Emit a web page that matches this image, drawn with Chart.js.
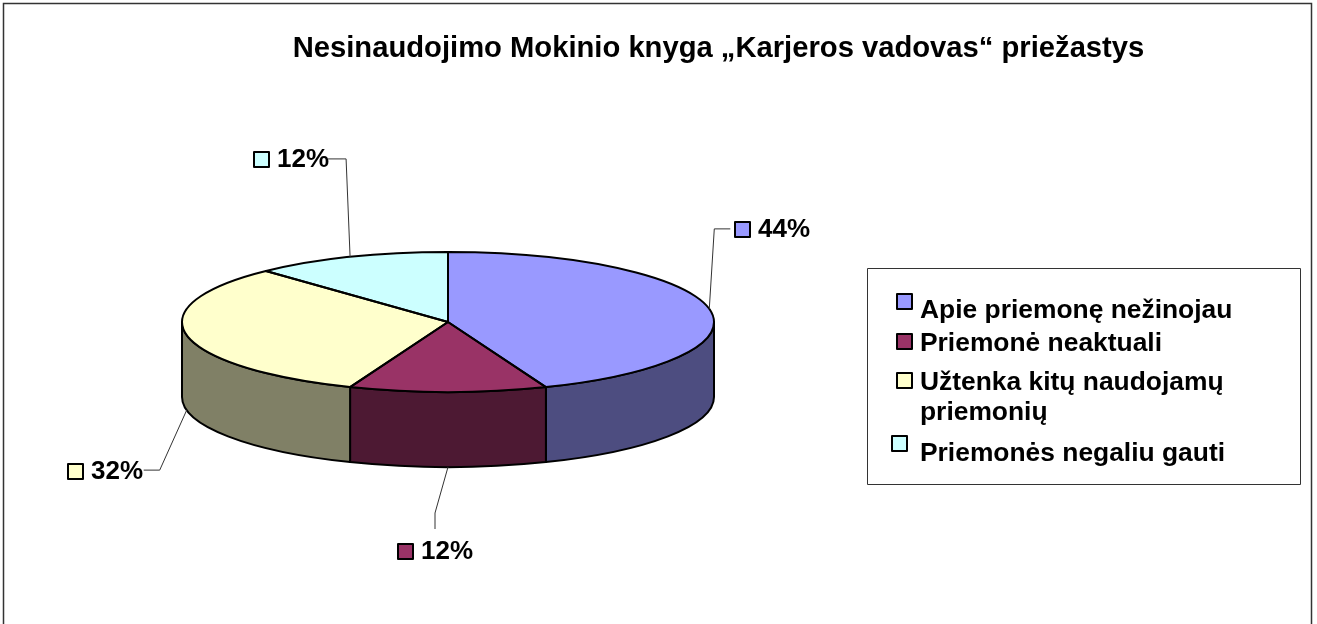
<!DOCTYPE html>
<html>
<head>
<meta charset="utf-8">
<style>html,body{margin:0;padding:0;background:#fff;overflow:hidden}canvas{display:block}</style>
<script src="https://cdn.jsdelivr.net/npm/chart.js@4"></script>
</head>
<body>
<canvas id="c" width="1317" height="624"></canvas>
<script>
const chartTitle = 'Nesinaudojimo Mokinio knyga „Karjeros vadovas“ priežastys';
const categories = ['Apie priemonę nežinojau', 'Priemonė neaktuali', 'Užtenka kitų naudojamų priemonių', 'Priemonės negaliu gauti'];
const shares = [44, 12, 32, 12];
const topColors = ['#9999FF', '#993366', '#FFFFCC', '#CCFFFF'];
const wallColors = ['#4D4D80', '#4D1933', '#808066', '#668080'];

const FONT = "'Liberation Sans', Arial, sans-serif";
const LABEL_PX = 26, LEGEND_PX = 26.4, TITLE_PX = 29.2;
const AREA = {left: 182, right: 714, top: 56, bottom: 588};
const SQUASH = 70 / 266, DEPTH = 75;
// data-label layout, relative to each slice's rim point: elbow path and marker box
const labelLayout = [
  {path: [[5, -80], [21, -80]], box: [26, -87]},
  {path: [[-13, 46], [-13, 62]], box: [-50, 77]},
  {path: [[-27, 60], [-43, 60]], box: [-119, 54]},
  {path: [[-4, -98], [-22, -98]], box: [-96, -105]}
];
// legend layout: marker box, text lines
const legendLayout = [
  {box: [897, 294], lines: [[920, 318]]},
  {box: [897, 334], lines: [[920, 351]]},
  {box: [897, 373], lines: [[920, 390], [920, 420]]},
  {box: [892, 436], lines: [[920, 461]]}
];
const legendLines = [[categories[0]], [categories[1]], ['Užtenka kitų naudojamų', 'priemonių'], [categories[3]]];

function marker(ctx, x, y, color) {
  ctx.fillStyle = color;
  ctx.strokeStyle = '#000';
  ctx.lineWidth = 2;
  ctx.fillRect(x, y, 15, 15);
  ctx.strokeRect(x, y, 15, 15);
}

const pie3d = {
  id: 'pie3d',
  afterLayout(chart) {
    const a = chart.chartArea;
    Object.assign(a, AREA, {width: AREA.right - AREA.left, height: AREA.bottom - AREA.top});
    const t = chart.titleBlock;
    const h = t.bottom - t.top;
    t.left = 292; t.right = 1145; t.top = 49 - h / 2; t.bottom = t.top + h;
  },
  beforeDraw(chart) {
    const ctx = chart.ctx;
    ctx.save();
    ctx.fillStyle = '#fff';
    ctx.fillRect(0, 0, chart.width, chart.height);
    ctx.strokeStyle = '#333';
    ctx.lineWidth = 1.5;
    ctx.strokeRect(3.5, 3.5, 1308, 720);
    ctx.restore();
  },
  beforeDatasetsDraw(chart) {
    const ctx = chart.ctx;
    ctx.save();
    ctx.lineWidth = 2;
    ctx.strokeStyle = '#000';
    ctx.lineJoin = 'round';
    chart.getDatasetMeta(0).data.forEach((arc, i) => {
      const a1 = Math.max(arc.startAngle, 0), a2 = Math.min(arc.endAngle, Math.PI);
      if (a2 <= a1) return;
      const r = arc.outerRadius, ry = r * SQUASH;
      ctx.beginPath();
      ctx.ellipse(arc.x, arc.y, r, ry, 0, a1, a2, false);
      ctx.ellipse(arc.x, arc.y + DEPTH, r, ry, 0, a2, a1, true);
      ctx.closePath();
      ctx.fillStyle = wallColors[i];
      ctx.fill();
      ctx.stroke();
    });
    ctx.restore();
  },
  beforeDatasetDraw(chart) {
    const ctx = chart.ctx;
    const arc = chart.getDatasetMeta(0).data[0];
    ctx.save();
    ctx.translate(arc.x, arc.y);
    ctx.scale(1, SQUASH);
    ctx.translate(-arc.x, -arc.y);
  },
  afterDatasetDraw(chart) {
    chart.ctx.restore();
  },
  afterDatasetsDraw(chart) {
    const ctx = chart.ctx;
    ctx.save();
    ctx.textBaseline = 'alphabetic';
    ctx.textAlign = 'left';
    chart.getDatasetMeta(0).data.forEach((arc, i) => {
      const r = arc.outerRadius, ry = r * SQUASH;
      // slice outline
      ctx.beginPath();
      ctx.moveTo(arc.x, arc.y);
      ctx.ellipse(arc.x, arc.y, r, ry, 0, arc.startAngle, arc.endAngle, false);
      ctx.closePath();
      ctx.lineWidth = 2;
      ctx.strokeStyle = '#000';
      ctx.lineJoin = 'round';
      ctx.stroke();
      // leader line from rim point (front-facing rim points sit at the wall's foot)
      const mid = (arc.startAngle + arc.endAngle) / 2;
      const px = arc.x + r * Math.cos(mid);
      const py = arc.y + ry * Math.sin(mid) + (Math.sin(mid) > 0 || Math.cos(mid) < -0.9 ? DEPTH : 0);
      const lay = labelLayout[i];
      ctx.beginPath();
      ctx.moveTo(px, py);
      lay.path.forEach(p => ctx.lineTo(px + p[0], py + p[1]));
      ctx.lineWidth = 1;
      ctx.strokeStyle = '#333';
      ctx.stroke();
      const bx = Math.round(px + lay.box[0]), by = Math.round(py + lay.box[1]);
      marker(ctx, bx, by, topColors[i]);
      ctx.fillStyle = '#000';
      ctx.font = `bold ${LABEL_PX}px ${FONT}`;
      ctx.fillText(shares[i] + '%', bx + 23, by + 15);
    });
    // legend
    ctx.lineWidth = 1;
    ctx.strokeStyle = '#333';
    ctx.strokeRect(867.5, 268.5, 433, 216);
    ctx.font = `bold ${LEGEND_PX}px ${FONT}`;
    legendLayout.forEach((l, i) => {
      marker(ctx, l.box[0], l.box[1], topColors[i]);
      ctx.fillStyle = '#000';
      ctx.font = `bold ${LEGEND_PX}px ${FONT}`;
      l.lines.forEach((p, j) => ctx.fillText(legendLines[i][j], p[0], p[1]));
    });
    ctx.restore();
  }
};

new Chart(document.getElementById('c'), {
  type: 'pie',
  data: {
    labels: categories,
    datasets: [{data: shares, backgroundColor: topColors, borderWidth: 0}]
  },
  options: {
    responsive: false,
    animation: false,
    plugins: {
      legend: {display: false},
      tooltip: {enabled: false},
      title: {display: true, text: chartTitle, color: '#000', font: {family: FONT, size: TITLE_PX, weight: 'bold'}, padding: 0}
    }
  },
  plugins: [pie3d]
});
</script>
</body>
</html>
